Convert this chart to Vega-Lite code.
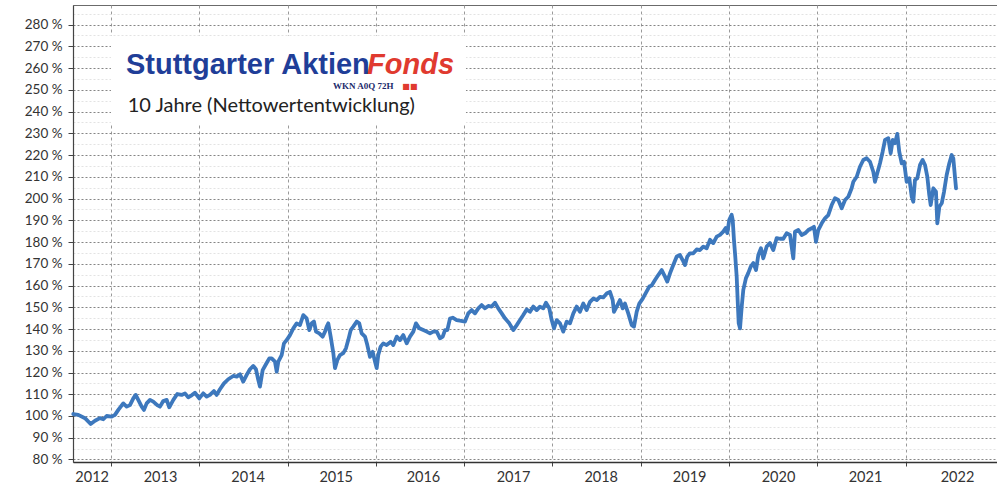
{
  "$schema": "https://vega.github.io/schema/vega-lite/v6.json",
  "width": 924,
  "height": 457,
  "autosize": {"type": "none"},
  "padding": {"left": 73, "top": 5, "right": 0, "bottom": 22},
  "background": "white",
  "config": {
    "view": {"stroke": "#6b6b6b", "strokeWidth": 1},
    "axis": {"labelFont": "Lato", "labelColor": "#333333", "labelOverlap": false, "labelFlush": false, "title": null}
  },
  "resolve": {"axis": {"x": "independent", "y": "independent"}},
  "layer": [
    {
      "data": {"values": [{"x1": 2013.0, "x2": 2017.02, "y1": 233.8, "y2": 274.7}]},
      "mark": {"type": "rect", "fill": "white"},
      "encoding": {
        "x": {"field": "x1", "type": "quantitative", "scale": {"domain": [2012.57, 2023.034], "nice": false, "zero": false},
          "axis": {"orient": "bottom", "values": [2012.781, 2013.555, 2014.548, 2015.545, 2016.533, 2017.553, 2018.546, 2019.548, 2020.554, 2021.539, 2022.581],
            "labelExpr": "'' + floor(datum.value)", "ticks": false, "domain": false, "grid": false, "labelPadding": 8, "labelFontSize": 14.5, "labelColor": "#333333"}},
        "x2": {"field": "x2"},
        "y": {"field": "y1", "type": "quantitative", "scale": {"domain": [78.85, 288.97], "nice": false, "zero": false},
          "axis": {"orient": "left", "values": [85, 95, 105, 115, 125, 135, 145, 155, 165, 175, 185, 195, 205, 215, 225, 235, 245, 255, 265, 275, 285],
            "labels": false, "ticks": false, "domain": false, "grid": true, "gridColor": "#e3e3e3", "gridDash": [2, 2], "gridWidth": 1}},
        "y2": {"field": "y2"}
      }
    },
    {
      "data": {"values": [
        {"year": 2012.573, "pct": 100.9}, {"year": 2012.630, "pct": 100.5}, {"year": 2012.706, "pct": 99.0}, {"year": 2012.770, "pct": 96.3},
        {"year": 2012.819, "pct": 97.8}, {"year": 2012.875, "pct": 99.0}, {"year": 2012.913, "pct": 98.5}, {"year": 2012.951, "pct": 100.0},
        {"year": 2013.008, "pct": 99.7}, {"year": 2013.045, "pct": 100.5}, {"year": 2013.083, "pct": 102.8}, {"year": 2013.139, "pct": 105.8},
        {"year": 2013.178, "pct": 104.3}, {"year": 2013.215, "pct": 105.0}, {"year": 2013.253, "pct": 108.1}, {"year": 2013.280, "pct": 109.7},
        {"year": 2013.309, "pct": 107.4}, {"year": 2013.348, "pct": 104.3}, {"year": 2013.374, "pct": 102.8}, {"year": 2013.404, "pct": 105.8},
        {"year": 2013.442, "pct": 107.4}, {"year": 2013.479, "pct": 106.6}, {"year": 2013.524, "pct": 105.0}, {"year": 2013.555, "pct": 104.3},
        {"year": 2013.592, "pct": 106.9}, {"year": 2013.631, "pct": 107.4}, {"year": 2013.660, "pct": 104.0}, {"year": 2013.706, "pct": 107.4},
        {"year": 2013.751, "pct": 110.1}, {"year": 2013.801, "pct": 109.7}, {"year": 2013.838, "pct": 110.4}, {"year": 2013.875, "pct": 108.6},
        {"year": 2013.914, "pct": 109.5}, {"year": 2013.951, "pct": 110.7}, {"year": 2014.000, "pct": 108.1}, {"year": 2014.045, "pct": 110.4},
        {"year": 2014.084, "pct": 108.9}, {"year": 2014.121, "pct": 109.7}, {"year": 2014.166, "pct": 111.5}, {"year": 2014.197, "pct": 109.7},
        {"year": 2014.234, "pct": 112.3}, {"year": 2014.280, "pct": 115.0}, {"year": 2014.328, "pct": 116.9}, {"year": 2014.385, "pct": 118.4},
        {"year": 2014.424, "pct": 118.1}, {"year": 2014.461, "pct": 119.2}, {"year": 2014.498, "pct": 115.8}, {"year": 2014.537, "pct": 118.9},
        {"year": 2014.574, "pct": 121.5}, {"year": 2014.612, "pct": 123.0}, {"year": 2014.642, "pct": 121.5}, {"year": 2014.668, "pct": 116.6},
        {"year": 2014.687, "pct": 113.5}, {"year": 2014.718, "pct": 121.1}, {"year": 2014.755, "pct": 123.8}, {"year": 2014.793, "pct": 126.5},
        {"year": 2014.820, "pct": 126.5}, {"year": 2014.857, "pct": 125.0}, {"year": 2014.877, "pct": 120.4}, {"year": 2014.895, "pct": 125.0},
        {"year": 2014.933, "pct": 128.0}, {"year": 2014.959, "pct": 133.4}, {"year": 2014.990, "pct": 134.9}, {"year": 2015.027, "pct": 137.2},
        {"year": 2015.065, "pct": 140.3}, {"year": 2015.103, "pct": 142.6}, {"year": 2015.140, "pct": 141.8}, {"year": 2015.178, "pct": 146.4},
        {"year": 2015.216, "pct": 144.9}, {"year": 2015.246, "pct": 139.5}, {"year": 2015.273, "pct": 142.6}, {"year": 2015.299, "pct": 143.4},
        {"year": 2015.322, "pct": 138.8}, {"year": 2015.359, "pct": 138.0}, {"year": 2015.397, "pct": 136.5}, {"year": 2015.424, "pct": 138.8},
        {"year": 2015.443, "pct": 141.1}, {"year": 2015.461, "pct": 142.6}, {"year": 2015.488, "pct": 136.5}, {"year": 2015.518, "pct": 128.9},
        {"year": 2015.537, "pct": 122.0}, {"year": 2015.563, "pct": 125.7}, {"year": 2015.593, "pct": 128.0}, {"year": 2015.631, "pct": 128.9},
        {"year": 2015.661, "pct": 131.1}, {"year": 2015.687, "pct": 134.9}, {"year": 2015.715, "pct": 139.5}, {"year": 2015.744, "pct": 141.1},
        {"year": 2015.783, "pct": 143.4}, {"year": 2015.812, "pct": 142.6}, {"year": 2015.839, "pct": 138.0}, {"year": 2015.877, "pct": 136.5},
        {"year": 2015.903, "pct": 132.6}, {"year": 2015.933, "pct": 127.2}, {"year": 2015.964, "pct": 129.5}, {"year": 2015.990, "pct": 125.0},
        {"year": 2016.009, "pct": 122.0}, {"year": 2016.027, "pct": 128.0}, {"year": 2016.054, "pct": 131.9}, {"year": 2016.084, "pct": 133.4},
        {"year": 2016.122, "pct": 132.6}, {"year": 2016.168, "pct": 134.1}, {"year": 2016.197, "pct": 132.6}, {"year": 2016.236, "pct": 136.5},
        {"year": 2016.273, "pct": 134.9}, {"year": 2016.310, "pct": 137.2}, {"year": 2016.349, "pct": 133.4}, {"year": 2016.386, "pct": 136.5},
        {"year": 2016.424, "pct": 138.8}, {"year": 2016.454, "pct": 142.6}, {"year": 2016.492, "pct": 140.3}, {"year": 2016.537, "pct": 139.5},
        {"year": 2016.575, "pct": 138.8}, {"year": 2016.613, "pct": 138.0}, {"year": 2016.650, "pct": 138.8}, {"year": 2016.689, "pct": 138.8},
        {"year": 2016.726, "pct": 135.7}, {"year": 2016.757, "pct": 136.5}, {"year": 2016.783, "pct": 139.5}, {"year": 2016.809, "pct": 139.5},
        {"year": 2016.839, "pct": 144.8}, {"year": 2016.870, "pct": 145.2}, {"year": 2016.915, "pct": 144.1}, {"year": 2016.952, "pct": 143.8},
        {"year": 2017.009, "pct": 143.4}, {"year": 2017.046, "pct": 147.2}, {"year": 2017.085, "pct": 148.7}, {"year": 2017.122, "pct": 147.2},
        {"year": 2017.160, "pct": 149.5}, {"year": 2017.198, "pct": 151.0}, {"year": 2017.236, "pct": 149.5}, {"year": 2017.273, "pct": 150.6},
        {"year": 2017.311, "pct": 150.3}, {"year": 2017.349, "pct": 152.1}, {"year": 2017.386, "pct": 149.5}, {"year": 2017.425, "pct": 147.2},
        {"year": 2017.462, "pct": 144.9}, {"year": 2017.511, "pct": 142.6}, {"year": 2017.556, "pct": 139.5}, {"year": 2017.595, "pct": 141.8},
        {"year": 2017.632, "pct": 144.1}, {"year": 2017.669, "pct": 146.4}, {"year": 2017.708, "pct": 149.0}, {"year": 2017.745, "pct": 147.9},
        {"year": 2017.783, "pct": 150.3}, {"year": 2017.821, "pct": 148.7}, {"year": 2017.858, "pct": 150.3}, {"year": 2017.896, "pct": 149.5},
        {"year": 2017.926, "pct": 152.1}, {"year": 2017.964, "pct": 149.5}, {"year": 2017.991, "pct": 144.1}, {"year": 2018.017, "pct": 140.3},
        {"year": 2018.048, "pct": 144.1}, {"year": 2018.085, "pct": 142.6}, {"year": 2018.122, "pct": 138.8}, {"year": 2018.161, "pct": 143.4},
        {"year": 2018.198, "pct": 142.6}, {"year": 2018.236, "pct": 147.2}, {"year": 2018.274, "pct": 150.3}, {"year": 2018.311, "pct": 147.9},
        {"year": 2018.349, "pct": 151.7}, {"year": 2018.387, "pct": 148.7}, {"year": 2018.425, "pct": 152.5}, {"year": 2018.462, "pct": 154.0},
        {"year": 2018.501, "pct": 153.3}, {"year": 2018.538, "pct": 154.8}, {"year": 2018.575, "pct": 154.5}, {"year": 2018.614, "pct": 156.3},
        {"year": 2018.651, "pct": 157.1}, {"year": 2018.682, "pct": 153.3}, {"year": 2018.696, "pct": 147.9}, {"year": 2018.727, "pct": 150.3},
        {"year": 2018.764, "pct": 153.3}, {"year": 2018.795, "pct": 149.5}, {"year": 2018.821, "pct": 151.7}, {"year": 2018.858, "pct": 147.2},
        {"year": 2018.897, "pct": 141.8}, {"year": 2018.923, "pct": 141.1}, {"year": 2018.954, "pct": 148.0}, {"year": 2018.983, "pct": 151.7},
        {"year": 2019.022, "pct": 154.0}, {"year": 2019.059, "pct": 156.7}, {"year": 2019.096, "pct": 159.5}, {"year": 2019.123, "pct": 160.0},
        {"year": 2019.161, "pct": 162.5}, {"year": 2019.198, "pct": 164.8}, {"year": 2019.237, "pct": 167.1}, {"year": 2019.274, "pct": 164.1},
        {"year": 2019.300, "pct": 161.8}, {"year": 2019.331, "pct": 165.6}, {"year": 2019.368, "pct": 169.4}, {"year": 2019.407, "pct": 173.3},
        {"year": 2019.444, "pct": 174.0}, {"year": 2019.474, "pct": 171.7}, {"year": 2019.501, "pct": 169.4}, {"year": 2019.527, "pct": 173.3},
        {"year": 2019.557, "pct": 174.8}, {"year": 2019.595, "pct": 174.8}, {"year": 2019.633, "pct": 176.6}, {"year": 2019.670, "pct": 176.3},
        {"year": 2019.708, "pct": 177.9}, {"year": 2019.746, "pct": 177.1}, {"year": 2019.784, "pct": 181.0}, {"year": 2019.821, "pct": 179.5},
        {"year": 2019.860, "pct": 182.5}, {"year": 2019.897, "pct": 183.3}, {"year": 2019.934, "pct": 184.8}, {"year": 2019.961, "pct": 186.4},
        {"year": 2019.980, "pct": 184.1}, {"year": 2020.002, "pct": 190.2}, {"year": 2020.029, "pct": 192.5}, {"year": 2020.041, "pct": 190.2},
        {"year": 2020.055, "pct": 181.0}, {"year": 2020.070, "pct": 173.3}, {"year": 2020.086, "pct": 164.1}, {"year": 2020.097, "pct": 153.3},
        {"year": 2020.109, "pct": 142.6}, {"year": 2020.124, "pct": 140.3}, {"year": 2020.143, "pct": 150.3}, {"year": 2020.161, "pct": 158.0},
        {"year": 2020.191, "pct": 163.4}, {"year": 2020.217, "pct": 165.7}, {"year": 2020.245, "pct": 168.7}, {"year": 2020.274, "pct": 170.3},
        {"year": 2020.305, "pct": 167.1}, {"year": 2020.331, "pct": 174.0}, {"year": 2020.361, "pct": 177.1}, {"year": 2020.387, "pct": 172.5},
        {"year": 2020.426, "pct": 177.9}, {"year": 2020.463, "pct": 179.5}, {"year": 2020.501, "pct": 176.3}, {"year": 2020.539, "pct": 181.8},
        {"year": 2020.576, "pct": 181.5}, {"year": 2020.614, "pct": 181.5}, {"year": 2020.652, "pct": 184.0}, {"year": 2020.690, "pct": 183.2},
        {"year": 2020.727, "pct": 172.5}, {"year": 2020.746, "pct": 184.7}, {"year": 2020.784, "pct": 185.5}, {"year": 2020.822, "pct": 183.2},
        {"year": 2020.860, "pct": 184.0}, {"year": 2020.897, "pct": 185.5}, {"year": 2020.935, "pct": 186.3}, {"year": 2020.961, "pct": 187.0},
        {"year": 2020.984, "pct": 180.1}, {"year": 2021.010, "pct": 185.5}, {"year": 2021.049, "pct": 188.6}, {"year": 2021.086, "pct": 190.9},
        {"year": 2021.123, "pct": 192.4}, {"year": 2021.162, "pct": 197.0}, {"year": 2021.199, "pct": 200.1}, {"year": 2021.237, "pct": 199.3},
        {"year": 2021.275, "pct": 195.5}, {"year": 2021.313, "pct": 199.3}, {"year": 2021.350, "pct": 200.8}, {"year": 2021.388, "pct": 204.7},
        {"year": 2021.407, "pct": 207.7}, {"year": 2021.445, "pct": 210.0}, {"year": 2021.482, "pct": 214.6}, {"year": 2021.520, "pct": 217.7},
        {"year": 2021.558, "pct": 218.5}, {"year": 2021.596, "pct": 216.9}, {"year": 2021.633, "pct": 212.3}, {"year": 2021.652, "pct": 207.7},
        {"year": 2021.678, "pct": 211.6}, {"year": 2021.709, "pct": 216.2}, {"year": 2021.739, "pct": 221.5}, {"year": 2021.766, "pct": 226.9},
        {"year": 2021.803, "pct": 227.7}, {"year": 2021.830, "pct": 220.8}, {"year": 2021.853, "pct": 226.9}, {"year": 2021.879, "pct": 225.4},
        {"year": 2021.905, "pct": 229.7}, {"year": 2021.927, "pct": 221.5}, {"year": 2021.955, "pct": 216.2}, {"year": 2021.981, "pct": 216.9},
        {"year": 2022.011, "pct": 207.7}, {"year": 2022.041, "pct": 209.3}, {"year": 2022.068, "pct": 200.8}, {"year": 2022.086, "pct": 198.5},
        {"year": 2022.105, "pct": 208.5}, {"year": 2022.131, "pct": 209.3}, {"year": 2022.162, "pct": 215.4}, {"year": 2022.192, "pct": 217.7},
        {"year": 2022.219, "pct": 215.4}, {"year": 2022.245, "pct": 210.0}, {"year": 2022.267, "pct": 201.6}, {"year": 2022.283, "pct": 197.0},
        {"year": 2022.313, "pct": 204.7}, {"year": 2022.343, "pct": 203.1}, {"year": 2022.358, "pct": 188.6}, {"year": 2022.381, "pct": 196.2},
        {"year": 2022.408, "pct": 197.8}, {"year": 2022.434, "pct": 203.1}, {"year": 2022.464, "pct": 210.8}, {"year": 2022.494, "pct": 216.2},
        {"year": 2022.521, "pct": 220.0}, {"year": 2022.539, "pct": 218.5}, {"year": 2022.558, "pct": 210.0}, {"year": 2022.570, "pct": 204.7}
      ]},
      "mark": {"type": "line", "color": "#3d78bd", "strokeWidth": 3.8, "strokeJoin": "round", "strokeCap": "round"},
      "encoding": {
        "x": {"field": "year", "type": "quantitative", "scale": {"domain": [2012.57, 2023.034], "nice": false, "zero": false},
          "axis": {"orient": "bottom", "values": [2013, 2014, 2015, 2016, 2017, 2018, 2019, 2020, 2021, 2022],
            "labels": false, "ticks": true, "tickSize": 4, "tickColor": "#444444", "domain": true, "domainColor": "#333333", "domainWidth": 1.5,
            "grid": true, "gridColor": "#9a9a9a", "gridDash": [3, 3], "gridWidth": 1}},
        "y": {"field": "pct", "type": "quantitative", "scale": {"domain": [78.85, 288.97], "nice": false, "zero": false},
          "axis": {"orient": "left", "values": [80, 90, 100, 110, 120, 130, 140, 150, 160, 170, 180, 190, 200, 210, 220, 230, 240, 250, 260, 270, 280],
            "labelExpr": "datum.value + ' %'", "labelFontSize": 13.5, "labelPadding": 6, "tickSize": 5, "tickColor": "#444444",
            "domain": true, "domainColor": "#444444", "domainWidth": 1.2,
            "grid": true, "gridColor": "#858585", "gridDash": [2, 2], "gridWidth": 1}}
      }
    },
    {
      "data": {"values": [{"year": 2013.17, "pct": 257.2, "label": "Stuttgarter Aktien"}]},
      "mark": {"type": "text", "align": "left", "baseline": "alphabetic", "font": "Liberation Sans", "fontWeight": "bold", "fontSize": 29, "color": "#1f3e98"},
      "encoding": {
        "x": {"field": "year", "type": "quantitative", "scale": {"domain": [2012.57, 2023.034], "nice": false, "zero": false}, "axis": null},
        "y": {"field": "pct", "type": "quantitative", "scale": {"domain": [78.85, 288.97], "nice": false, "zero": false}, "axis": null},
        "text": {"field": "label"}
      }
    },
    {
      "data": {"values": [{"year": 2016.885, "pct": 257.2, "label": "Fonds"}]},
      "mark": {"type": "text", "align": "right", "baseline": "alphabetic", "font": "Liberation Sans", "fontWeight": "bold", "fontStyle": "italic", "fontSize": 29, "color": "#e03a2f"},
      "encoding": {
        "x": {"field": "year", "type": "quantitative", "scale": {"domain": [2012.57, 2023.034], "nice": false, "zero": false}, "axis": null},
        "y": {"field": "pct", "type": "quantitative", "scale": {"domain": [78.85, 288.97], "nice": false, "zero": false}, "axis": null},
        "text": {"field": "label"}
      }
    },
    {
      "data": {"values": [{"year": 2015.514, "pct": 250.3, "label": "WKN A0Q 72H"}]},
      "mark": {"type": "text", "align": "left", "baseline": "alphabetic", "font": "Liberation Serif", "fontWeight": "bold", "fontSize": 9, "color": "#1b2a6b"},
      "encoding": {
        "x": {"field": "year", "type": "quantitative", "scale": {"domain": [2012.57, 2023.034], "nice": false, "zero": false}, "axis": null},
        "y": {"field": "pct", "type": "quantitative", "scale": {"domain": [78.85, 288.97], "nice": false, "zero": false}, "axis": null},
        "text": {"field": "label"}
      }
    },
    {
      "data": {"values": [{"year": 2016.3, "pct": 250.2, "label": "■■"}]},
      "mark": {"type": "text", "align": "left", "baseline": "alphabetic", "font": "DejaVu Sans", "fontSize": 8, "color": "#e03a2f"},
      "encoding": {
        "x": {"field": "year", "type": "quantitative", "scale": {"domain": [2012.57, 2023.034], "nice": false, "zero": false}, "axis": null},
        "y": {"field": "pct", "type": "quantitative", "scale": {"domain": [78.85, 288.97], "nice": false, "zero": false}, "axis": null},
        "text": {"field": "label"}
      }
    },
    {
      "data": {"values": [{"year": 2013.189, "pct": 239.9, "label": "10 Jahre (Nettowertentwicklung)"}]},
      "mark": {"type": "text", "align": "left", "baseline": "alphabetic", "font": "Lato", "fontSize": 20, "color": "#222222"},
      "encoding": {
        "x": {"field": "year", "type": "quantitative", "scale": {"domain": [2012.57, 2023.034], "nice": false, "zero": false}, "axis": null},
        "y": {"field": "pct", "type": "quantitative", "scale": {"domain": [78.85, 288.97], "nice": false, "zero": false}, "axis": null},
        "text": {"field": "label"}
      }
    }
  ]
}
